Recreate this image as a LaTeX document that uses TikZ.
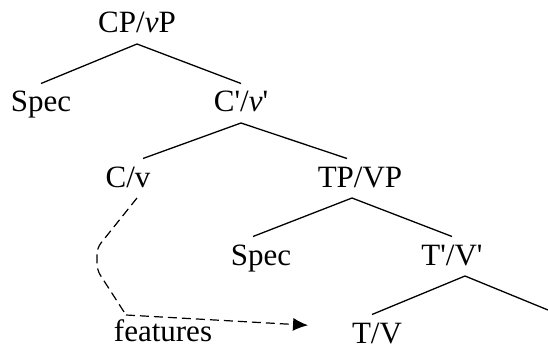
\documentclass[tikz,border=0pt]{standalone}
\usepackage{fontspec}
\newfontfamily\treefont{Liberation Serif}
\usetikzlibrary{arrows.meta}
\begin{document}
\begin{tikzpicture}[x=1pt,y=-1pt,
		lbl/.style={anchor=base,font=\treefont\fontsize{31}{36}\selectfont,inner sep=0pt,text height=20.5pt,text depth=3pt,outer ysep=8pt,outer xsep=0pt},
		branch/.style={line width=1.3pt},
		move/.style={line width=1.2pt,dash pattern=on 9pt off 5pt}]
		\useasboundingbox (0,0) rectangle (548,350);
		% labels
		\node[lbl] (cp) at (137,33) {CP/\textit{v}P};
		\node[lbl] (spec1) at (41,112) {Spec};
		\node[lbl] (cbar) at (241,112) {C'/\textit{v}'};
		\node[lbl] (cv) at (128,187) {C/v};
		\node[lbl] (tp) at (360,187) {TP/VP};
		\node[lbl] (spec2) at (261,265) {Spec};
		\node[lbl] (tbar) at (452,265) {T'/V'};
		\node[lbl] (tv) at (377,343) {T/V};
		\node[lbl] (feat) at (163,341) {features};
		\coordinate (tright) at (548,310);
		\coordinate (bendA) at (97,248);
		\coordinate (bendB) at (97,270);
		\coordinate (fcorner) at (126,315);
		% branches
		\draw[branch] (cp.south) -- (spec1.north);
		\draw[branch] (cp.south) -- (cbar.north);
		\draw[branch] (cbar.south) -- ([xshift=15pt]cv.north);
		\draw[branch] (cbar.south) -- ([xshift=-13pt]tp.north);
		\draw[branch] ([xshift=-8pt]tp.south) -- ([xshift=-8pt]spec2.north);
		\draw[branch] ([xshift=-8pt]tp.south) -- (tbar.north);
		\draw[branch] ([xshift=13pt]tbar.south) -- ([xshift=-5pt]tv.north);
		\draw[branch] ([xshift=13pt]tbar.south) -- (tright);
		% feature movement
		\draw[move,rounded corners=6pt] ([xshift=9pt]cv.south) -- (bendA) -- (bendB) -- (fcorner);
		\draw[move,->,>={Latex[length=15pt,width=13pt]}] (fcorner) -- ([xshift=-44pt,yshift=9pt]tv.west);
\end{tikzpicture}
\end{document}
